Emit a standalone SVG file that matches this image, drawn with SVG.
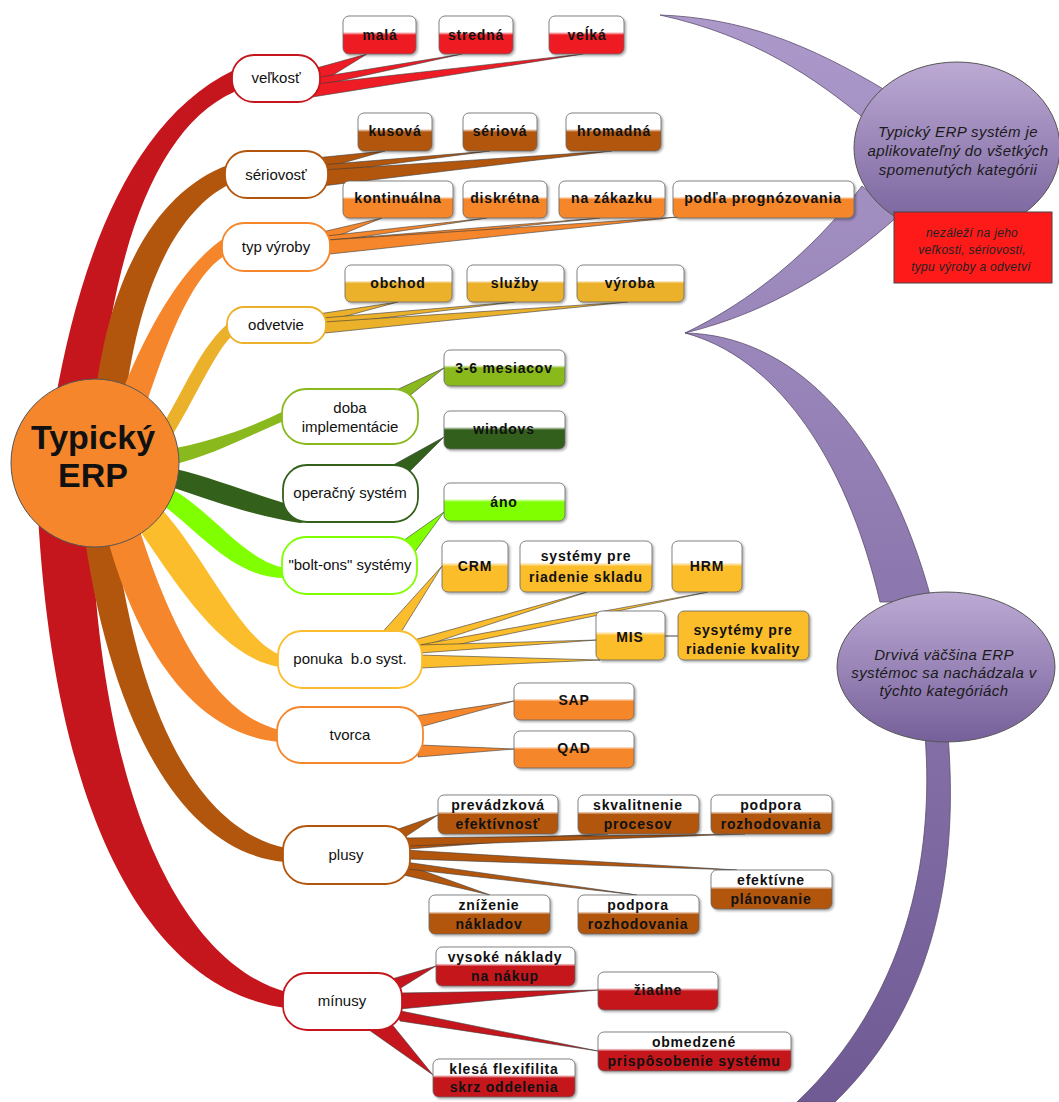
<svg xmlns="http://www.w3.org/2000/svg" width="1059" height="1102" viewBox="0 0 1059 1102">
<defs>
<style>
.nt{font-family:"Liberation Sans",Arial,sans-serif;font-size:15px;fill:#111;text-anchor:middle}
.lt{font-family:"Liberation Sans",Arial,sans-serif;font-weight:bold;font-size:14px;letter-spacing:0.8px;fill:#111;text-anchor:middle}
.ct{font-family:"Liberation Sans",Arial,sans-serif;font-style:italic;font-size:15px;letter-spacing:0.4px;fill:#1a1a1a;text-anchor:middle}
.rt{font-family:"Liberation Sans",Arial,sans-serif;font-style:italic;font-size:12px;letter-spacing:0.3px;fill:#222;text-anchor:middle}
.node rect{fill:#fff;stroke-width:1.8}
.leaf rect{stroke:#666;stroke-width:0.8;filter:url(#sh)}
.w{stroke:#3a3a3a;stroke-width:0.6;stroke-linejoin:round}
.arm{fill:url(#gArm);stroke:#5b4d6e;stroke-width:0.8}
</style>
<filter id="sh" x="-10%" y="-10%" width="130%" height="150%"><feDropShadow dx="1.5" dy="1.5" stdDeviation="1" flood-color="#000" flood-opacity="0.35"/></filter>
<linearGradient id="gRed" x1="0" y1="0" x2="0" y2="1"><stop offset="0.42" stop-color="#fff"/><stop offset="0.5" stop-color="#ee1c24"/></linearGradient>
<linearGradient id="gMinus" x1="0" y1="0" x2="0" y2="1"><stop offset="0.42" stop-color="#fff"/><stop offset="0.5" stop-color="#c5161d"/></linearGradient>
<linearGradient id="gBrown" x1="0" y1="0" x2="0" y2="1"><stop offset="0.42" stop-color="#fff"/><stop offset="0.5" stop-color="#b3560d"/></linearGradient>
<linearGradient id="gOrange" x1="0" y1="0" x2="0" y2="1"><stop offset="0.42" stop-color="#fff"/><stop offset="0.5" stop-color="#f5862b"/></linearGradient>
<linearGradient id="gGold" x1="0" y1="0" x2="0" y2="1"><stop offset="0.42" stop-color="#fff"/><stop offset="0.5" stop-color="#ebb12a"/></linearGradient>
<linearGradient id="gOlive" x1="0" y1="0" x2="0" y2="1"><stop offset="0.42" stop-color="#fff"/><stop offset="0.5" stop-color="#8ab91e"/></linearGradient>
<linearGradient id="gDark" x1="0" y1="0" x2="0" y2="1"><stop offset="0.42" stop-color="#fff"/><stop offset="0.5" stop-color="#33601a"/></linearGradient>
<linearGradient id="gBright" x1="0" y1="0" x2="0" y2="1"><stop offset="0.42" stop-color="#fff"/><stop offset="0.5" stop-color="#80ff00"/></linearGradient>
<linearGradient id="gAmber" x1="0" y1="0" x2="0" y2="1"><stop offset="0.42" stop-color="#fff"/><stop offset="0.5" stop-color="#fbbd2b"/></linearGradient>
<linearGradient id="gEll" x1="0" y1="0" x2="0" y2="1"><stop offset="0" stop-color="#bcaad4"/><stop offset="1" stop-color="#76609a"/></linearGradient>
<linearGradient id="gArm" gradientUnits="userSpaceOnUse" x1="0" y1="0" x2="0" y2="1102"><stop offset="0" stop-color="#ad9acb"/><stop offset="1" stop-color="#6f5a94"/></linearGradient>
</defs>
<rect width="1059" height="1102" fill="#fff"/>

<!-- callouts -->
<g id="callout-top">
<path class="arm" d="M660,15 C740,18 805,42 885,90 L866,120 C815,78 755,36 660,15 Z"/>
<path class="arm" d="M685,333 C750,302 812,252 862,186 L898,216 C842,266 772,312 685,333 Z"/>
<ellipse cx="957" cy="148" rx="103" ry="86" fill="url(#gEll)" stroke="#555" stroke-width="1"/>
<text class="ct" x="958" y="137">Typický ERP systém je</text>
<text class="ct" x="958" y="156">aplikovateľný do všetkých</text>
<text class="ct" x="958" y="175">spomenutých kategórii</text>
<rect x="894" y="212" width="158" height="71" fill="#ff1a1a" stroke="#444" stroke-width="1"/>
<text class="rt" x="972" y="237">nezáleží na jeho</text>
<text class="rt" x="972" y="254">veľkosti, sériovosti,</text>
<text class="rt" x="971" y="271">typu výroby a odvetví</text>
</g>
<g id="callout-bottom">
<path class="arm" d="M685,333 C790,335 885,425 932,602 L880,602 C845,452 772,356 685,333 Z"/>
<path class="arm" d="M925,735 C935,860 905,1000 797,1102 L835,1102 C940,1000 958,860 948,735 Z"/>
<ellipse cx="946" cy="667" rx="109" ry="75" fill="url(#gEll)" stroke="#555" stroke-width="1"/>
<text class="ct" x="944" y="660">Drvivá väčšina ERP</text>
<text class="ct" x="944" y="678">systémoc sa nachádzala v</text>
<text class="ct" x="944" y="696">týchto kategóriách</text>
</g>

<!-- connectors -->
<g id="connectors">
<path fill="#c5161d" d="M55,402 C80,260 130,120 234,70 L234,92 C160,125 115,240 100,402 Z"/>
<path fill="#b3560d" d="M95,398 C110,270 160,190 228,165 L228,185 C180,210 140,280 125,402 Z"/>
<path fill="#f5862b" d="M118,402 C150,320 185,265 224,238 L224,256 C195,275 172,325 145,408 Z"/>
<path fill="#ebb12a" d="M158,432 C185,390 200,345 232,320 L234,334 C215,350 195,400 168,442 Z"/>
<path fill="#8ab91e" d="M165,450 C210,442 250,428 286,410 L286,420 C250,435 215,455 168,466 Z"/>
<path fill="#33601a" d="M165,467 C210,475 250,495 335,518 L300,523 C250,515 210,500 165,485 Z"/>
<path fill="#80ff00" d="M160,484 C205,500 240,560 285,568 L285,578 C230,578 195,525 155,500 Z"/>
<path fill="#c5161d" d="M92,540 C105,820 190,965 286,992 L286,1008 C150,990 55,820 38,515 Z"/>
<path fill="#b3560d" d="M115,535 C140,720 200,830 286,848 L286,862 C190,855 115,740 85,540 Z"/>
<path fill="#f5862b" d="M135,515 C170,630 215,715 280,730 L280,742 C200,735 140,660 105,530 Z"/>
<path fill="#fbbd2b" d="M158,505 C205,555 240,640 281,655 L281,667 C225,660 180,590 138,528 Z"/>

<g fill="#ee1c24" class="w">
<path d="M302,72 L367,54 L312,88 Z"/>
<path d="M314,78 L462,54 L317,86 Z"/>
<path d="M315,84 L583,54 L306,98 Z"/>
</g>
<g fill="#b3560d" class="w">
<path d="M315,158 L385,151 L318,170 Z"/>
<path d="M320,165 L490,151 L322,173 Z"/>
<path d="M322,170 L612,151 L322,186 Z"/>
</g>
<g fill="#f5862b" class="w">
<path d="M322,232 L382,218 L328,240 Z"/>
<path d="M326,236 L487,218 L328,242 Z"/>
<path d="M327,240 L600,218 L329,246 Z"/>
<path d="M328,240 L678,217 L330,254 Z"/>
</g>
<g fill="#ebb12a" class="w">
<path d="M318,314 L398,302 L324,322 Z"/>
<path d="M322,318 L515,302 L325,325 Z"/>
<path d="M324,322 L628,302 L325,333 Z"/>
</g>
<path fill="#8ab91e" class="w" d="M392,392 L444,368 L408,397 Z"/>
<path fill="#33601a" class="w" d="M386,469 L444,437 L410,471 Z"/>
<path fill="#80ff00" class="w" d="M400,543 L444,512 L414,553 Z"/>
<g fill="#fbbd2b" class="w">
<path d="M378,637 L442,566 L398,637 Z"/>
<path d="M410,641 L587,592 L415,649 Z"/>
<path d="M414,646 L708,592 L418,653 Z"/>
<path d="M418,645 L597,640 L420,653 Z"/>
<path d="M419,655 L600,660 L420,668 Z"/>
</g>
<line x1="665" y1="636" x2="678" y2="636" stroke="#444" stroke-width="1"/>
<g fill="#f5862b" class="w">
<path d="M415,716 L514,701 L420,727 Z"/>
<path d="M420,745 L514,749 L418,757 Z"/>
</g>
<g fill="#b3560d" class="w">
<path d="M390,832 L438,815 L402,839 Z"/>
<path d="M405,842 L608,834 L408,849 Z"/>
<path d="M405,838 L745,834 L408,846 Z"/>
<path d="M405,850 L737,870 L408,859 Z"/>
<path d="M395,873 L490,895 L410,866 Z"/>
<path d="M405,862 L637,895 L408,869 Z"/>
</g>
<g fill="#c5161d" class="w">
<path d="M385,981 L436,966 L396,991 Z"/>
<path d="M398,993 L598,990 L400,1009 Z"/>
<path d="M396,1010 L598,1051 L400,1021 Z"/>
<path d="M362,1025 L433,1075 L390,1022 Z"/>
</g>
</g>

<!-- center -->
<g id="center">
<circle cx="95" cy="463" r="84" fill="#f5862b" stroke="#555" stroke-width="1"/>
<text x="93" y="449" font-family="Liberation Sans, Arial, sans-serif" font-weight="bold" font-size="34" text-anchor="middle" fill="#111">Typický</text>
<text x="93" y="487" font-family="Liberation Sans, Arial, sans-serif" font-weight="bold" font-size="34" text-anchor="middle" fill="#111">ERP</text>
</g>

<!-- branch nodes -->
<g id="n-velkost" class="node"><rect x="232" y="55" width="88" height="47" rx="22" stroke="#c5161d"/><text class="nt" x="276" y="83">veľkosť</text></g>
<g id="n-seriovost" class="node"><rect x="225" y="151" width="103" height="47" rx="22" stroke="#b3560d"/><text class="nt" x="276" y="180">sériovosť</text></g>
<g id="n-typ" class="node"><rect x="222" y="223" width="108" height="48" rx="22" stroke="#f5862b"/><text class="nt" x="276" y="252">typ výroby</text></g>
<g id="n-odvetvie" class="node"><rect x="227" y="307" width="99" height="36" rx="17" stroke="#ebb12a"/><text class="nt" x="276" y="330">odvetvie</text></g>
<g id="n-doba" class="node"><rect x="282" y="389" width="136" height="55" rx="24" stroke="#8ab91e"/><text class="nt" x="350" y="413">doba</text><text class="nt" x="350" y="432">implementácie</text></g>
<g id="n-os" class="node"><rect x="283" y="465" width="135" height="57" rx="24" stroke="#33601a"/><text class="nt" x="350" y="498">operačný systém</text></g>
<g id="n-bolt" class="node"><rect x="282" y="537" width="135" height="57" rx="24" stroke="#80ff00"/><text class="nt" x="350" y="570">"bolt-ons" systémy</text></g>
<g id="n-ponuka" class="node"><rect x="278" y="631" width="144" height="57" rx="24" stroke="#fbbd2b"/><text class="nt" x="350" y="664" xml:space="preserve">ponuka  b.o syst.</text></g>
<g id="n-tvorca" class="node"><rect x="277" y="707" width="146" height="56" rx="24" stroke="#f5862b"/><text class="nt" x="350" y="740">tvorca</text></g>
<g id="n-plusy" class="node"><rect x="283" y="826" width="127" height="58" rx="24" stroke="#b3560d"/><text class="nt" x="346" y="860">plusy</text></g>
<g id="n-minusy" class="node"><rect x="283" y="973" width="119" height="57" rx="24" stroke="#c5161d"/><text class="nt" x="342" y="1006">mínusy</text></g>

<!-- leaves -->
<g class="leaf">
<g id="l-mala"><rect x="343" y="16" width="73" height="38" rx="6" fill="url(#gRed)"/><text class="lt" x="380" y="40">malá</text></g>
<g id="l-stredna"><rect x="439" y="16" width="74" height="38" rx="6" fill="url(#gRed)"/><text class="lt" x="476" y="40">stredná</text></g>
<g id="l-velka"><rect x="549" y="16" width="75" height="38" rx="6" fill="url(#gRed)"/><text class="lt" x="587" y="40">veĺká</text></g>
<g id="l-kusova"><rect x="358" y="113" width="74" height="38" rx="6" fill="url(#gBrown)"/><text class="lt" x="395" y="136">kusová</text></g>
<g id="l-seriova"><rect x="463" y="113" width="74" height="38" rx="6" fill="url(#gBrown)"/><text class="lt" x="500" y="136">sériová</text></g>
<g id="l-hromadna"><rect x="566" y="113" width="95" height="38" rx="6" fill="url(#gBrown)"/><text class="lt" x="614" y="136">hromadná</text></g>
<g id="l-kont"><rect x="343" y="181" width="110" height="37" rx="6" fill="url(#gOrange)"/><text class="lt" x="398" y="203">kontinuálna</text></g>
<g id="l-disk"><rect x="463" y="181" width="84" height="37" rx="6" fill="url(#gOrange)"/><text class="lt" x="505" y="203">diskrétna</text></g>
<g id="l-zak"><rect x="559" y="181" width="106" height="37" rx="6" fill="url(#gOrange)"/><text class="lt" x="612" y="203">na zákazku</text></g>
<g id="l-progn"><rect x="673" y="181" width="181" height="37" rx="6" fill="url(#gOrange)"/><text class="lt" x="763" y="203">podľa prognózovania</text></g>
<g id="l-obchod"><rect x="345" y="265" width="107" height="37" rx="6" fill="url(#gGold)"/><text class="lt" x="398" y="288">obchod</text></g>
<g id="l-sluzby"><rect x="467" y="265" width="97" height="37" rx="6" fill="url(#gGold)"/><text class="lt" x="515" y="288">služby</text></g>
<g id="l-vyroba"><rect x="577" y="265" width="107" height="37" rx="6" fill="url(#gGold)"/><text class="lt" x="630" y="288">výroba</text></g>
<g id="l-mesiacov"><rect x="444" y="350" width="121" height="36" rx="6" fill="url(#gOlive)"/><text class="lt" x="504" y="373">3-6 mesiacov</text></g>
<g id="l-windovs"><rect x="444" y="411" width="121" height="38" rx="6" fill="url(#gDark)"/><text class="lt" x="504" y="434">windovs</text></g>
<g id="l-ano"><rect x="444" y="483" width="121" height="38" rx="6" fill="url(#gBright)"/><text class="lt" x="504" y="507">áno</text></g>
<g id="l-crm"><rect x="442" y="541" width="66" height="51" rx="6" fill="url(#gAmber)"/><text class="lt" x="475" y="571">CRM</text></g>
<g id="l-sklad"><rect x="520" y="541" width="132" height="51" rx="6" fill="url(#gAmber)"/><text class="lt" x="586" y="561">systémy pre</text><text class="lt" x="586" y="582">riadenie skladu</text></g>
<g id="l-hrm"><rect x="672" y="541" width="70" height="51" rx="6" fill="url(#gAmber)"/><text class="lt" x="707" y="571">HRM</text></g>
<g id="l-mis"><rect x="596" y="611" width="69" height="49" rx="6" fill="url(#gAmber)"/><text class="lt" x="630" y="642">MIS</text></g>
<g id="l-kvalita"><rect x="678" y="611" width="131" height="49" rx="6" fill="#fbbd2b"/><text class="lt" x="743" y="635">sysytémy pre</text><text class="lt" x="743" y="654">riadenie kvality</text></g>
<g id="l-sap"><rect x="514" y="683" width="120" height="37" rx="6" fill="url(#gOrange)"/><text class="lt" x="574" y="705">SAP</text></g>
<g id="l-qad"><rect x="514" y="731" width="120" height="37" rx="6" fill="url(#gOrange)"/><text class="lt" x="574" y="753">QAD</text></g>
<g id="l-prev"><rect x="438" y="795" width="120" height="39" rx="6" fill="url(#gBrown)"/><text class="lt" x="498" y="810">prevádzková</text><text class="lt" x="498" y="829">efektívnosť</text></g>
<g id="l-skval"><rect x="578" y="795" width="121" height="39" rx="6" fill="url(#gBrown)"/><text class="lt" x="638" y="810">skvalitnenie</text><text class="lt" x="638" y="829">procesov</text></g>
<g id="l-podp1"><rect x="711" y="795" width="121" height="39" rx="6" fill="url(#gBrown)"/><text class="lt" x="771" y="810">podpora</text><text class="lt" x="771" y="829">rozhodovania</text></g>
<g id="l-efekt"><rect x="711" y="870" width="121" height="39" rx="6" fill="url(#gBrown)"/><text class="lt" x="771" y="885">efektívne</text><text class="lt" x="771" y="904">plánovanie</text></g>
<g id="l-zniz"><rect x="429" y="895" width="121" height="39" rx="6" fill="url(#gBrown)"/><text class="lt" x="489" y="910">zníženie</text><text class="lt" x="489" y="929">nákladov</text></g>
<g id="l-podp2"><rect x="578" y="895" width="121" height="39" rx="6" fill="url(#gBrown)"/><text class="lt" x="638" y="910">podpora</text><text class="lt" x="638" y="929">rozhodovania</text></g>
<g id="l-vysoke"><rect x="436" y="947" width="139" height="39" rx="6" fill="url(#gMinus)"/><text class="lt" x="505" y="962">vysoké náklady</text><text class="lt" x="505" y="981">na nákup</text></g>
<g id="l-ziadne"><rect x="598" y="972" width="120" height="38" rx="6" fill="url(#gMinus)"/><text class="lt" x="658" y="995">žiadne</text></g>
<g id="l-obmedz"><rect x="598" y="1032" width="193" height="39" rx="6" fill="url(#gMinus)"/><text class="lt" x="694" y="1047">obmedzené</text><text class="lt" x="694" y="1066">prispôsobenie systému</text></g>
<g id="l-klesa"><rect x="433" y="1059" width="142" height="38" rx="6" fill="url(#gMinus)"/><text class="lt" x="504" y="1074">klesá flexifilita</text><text class="lt" x="504" y="1092">skrz oddelenia</text></g>
</g>
</svg>
